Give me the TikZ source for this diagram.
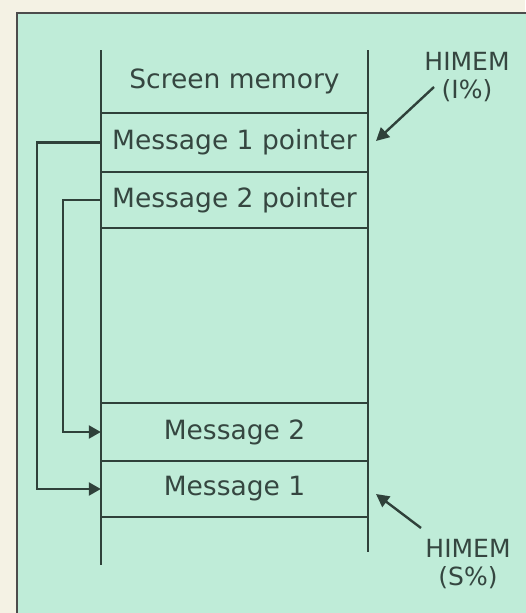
\documentclass[tikz,border=0pt]{standalone}
\usepackage{fontspec}
\setmainfont{DejaVu Sans}
\usetikzlibrary{arrows.meta,calc}
\definecolor{mint}{HTML}{BFECD8}
\definecolor{cream}{HTML}{F4F2E4}
\definecolor{ink}{HTML}{2F413A}
\definecolor{txt}{HTML}{354640}
\tikzset{
  cell/.style={minimum width=267pt, inner sep=0pt, text=txt, font=\fontsize{26.5}{30}\selectfont},
  wall/.style={draw=ink, line width=2.4pt},
  conn/.style={draw=ink, line width=2.4pt, -{Triangle[length=12pt,width=13pt]}},
  ptr/.style={draw=ink, line width=2.4pt, -{Triangle[length=13pt,width=13pt]}},
  lbl/.style={align=center, text=txt, inner sep=0pt, font=\fontsize{25}{27.5}\selectfont}
}
\begin{document}
\begin{tikzpicture}[x=1pt,y=-1pt]
\useasboundingbox (0,0) rectangle (525,613);
\fill[cream] (0,0) rectangle (525,613);
\filldraw[fill=mint, draw=black!70, line width=2.5pt] (17,13) rectangle (545,640);
% cells
\node[cell, minimum height=63pt] (scr) at (234.5,81.5) {Screen memory};
\node[cell, minimum height=59pt] (p1) at (234.5,142.5) {Message 1 pointer};
\node[cell, minimum height=56pt] (p2) at (234.5,200) {Message 2 pointer};
\node[cell, minimum height=58pt] (m2) at (234.5,432) {Message 2};
\node[cell, minimum height=56pt] (m1) at (234.5,489) {Message 1};
% column walls
\draw[wall] (101,50) -- (101,565);
\draw[wall] (368,50) -- (368,552);
\draw[wall] (p1.north west) -- (p1.north east);
\draw[wall] (p2.north west) -- (p2.north east);
\draw[wall] (p2.south west) -- (p2.south east);
\draw[wall] (m2.north west) -- (m2.north east);
\draw[wall] (m1.north west) -- (m1.north east);
\draw[wall] (m1.south west) -- (m1.south east);
% pointer connectors
\draw[conn] (p1.west) -- ++(-64,0) |- (m1.west);
\draw[conn] (p2.west) -- ++(-38,0) |- (m2.west);
% HIMEM labels
\node[lbl] (hI) at (467,77) {HIMEM\\(I\%)};
\node[lbl] (hS) at (468,564) {HIMEM\\(S\%)};
\coordinate (tI) at (434,87);
\coordinate (aI) at (376,141);
\coordinate (tS) at (421,528);
\coordinate (aS) at (376,494);
\draw[ptr] (tI) -- (aI);
\draw[ptr] (tS) -- (aS);
\end{tikzpicture}
\end{document}
